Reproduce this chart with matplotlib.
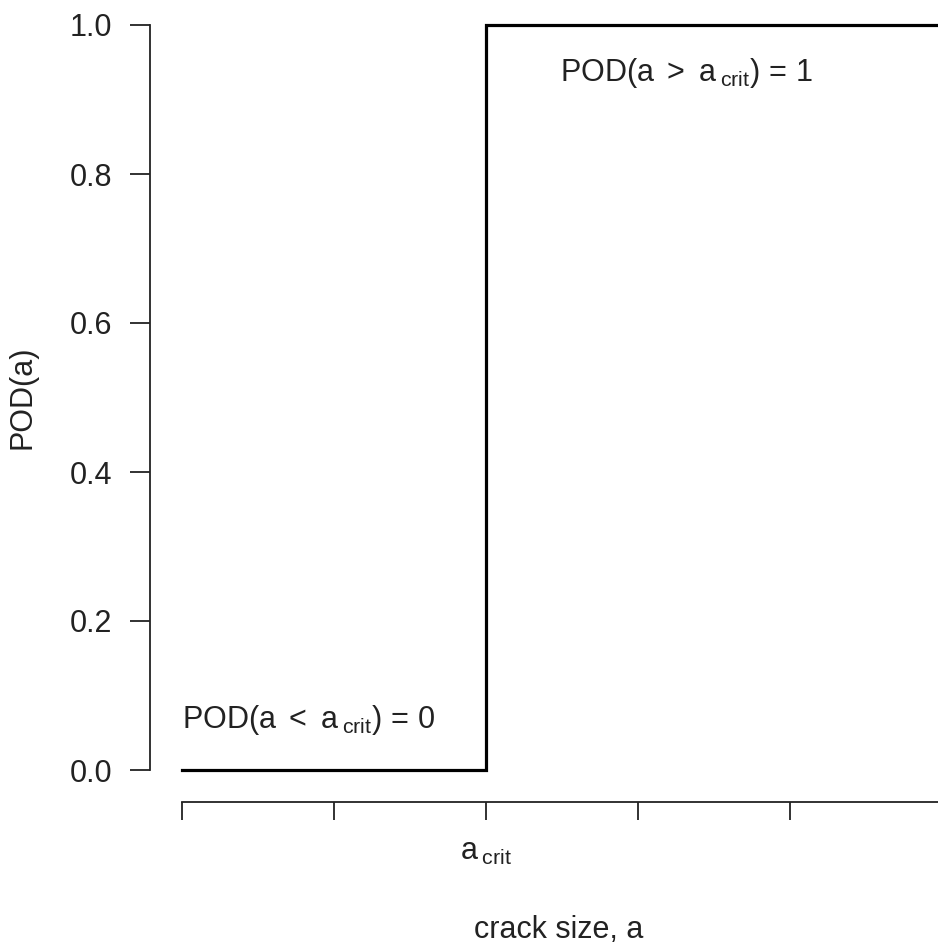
import numpy as np
import matplotlib
matplotlib.use('Agg')
import matplotlib.pyplot as plt

plt.rcParams['font.family'] = ['Liberation Sans', 'DejaVu Sans']
plt.rcParams['mathtext.fontset'] = 'custom'
plt.rcParams['mathtext.rm'] = 'Liberation Sans'
plt.rcParams['mathtext.it'] = 'Liberation Sans'
plt.rcParams['mathtext.bf'] = 'Liberation Sans:bold'

# step POD curve: 0 below a_crit, 1 above
step_x = [0, 2, 2, 5]
step_y = [0, 0, 1, 1]

x_ticks = [0, 1, 2, 3, 4, 5]
x_ticklabels = ['', '', r'$a_{\;\mathrm{crit}}$', '', '', '']
y_ticks = [0.0, 0.2, 0.4, 0.6, 0.8, 1.0]
y_ticklabels = ['0.0', '0.2', '0.4', '0.6', '0.8', '1.0']

lab_low = r'$\mathrm{POD}(a\,\,<\,\,a_{\;\mathrm{crit}})\,=\,0$'
lab_high = r'$\mathrm{POD}(a\,\,>\,\,a_{\;\mathrm{crit}})\,=\,1$'

W, H = 938, 947
fig = plt.figure(figsize=(W / 100, H / 100), dpi=100)
ax = fig.add_axes([182 / W, (H - 770) / H, 760 / W, 745 / H])

ax.plot(step_x, step_y, color='black', lw=2.3, clip_on=False,
        solid_joinstyle='miter')

ax.set_xlim(0, 5)
ax.set_ylim(0, 1)

for s in ['top', 'right']:
    ax.spines[s].set_visible(False)
ax.spines['left'].set_position(('outward', 23))
ax.spines['bottom'].set_position(('outward', 23))
ax.spines['left'].set_bounds(0, 1)
ax.spines['bottom'].set_bounds(0, 5)
for s in ['left', 'bottom']:
    ax.spines[s].set_linewidth(1.3)
    ax.spines[s].set_color('#222222')

ax.set_xticks(x_ticks)
ax.set_xticklabels(x_ticklabels)
ax.set_yticks(y_ticks)
ax.set_yticklabels(y_ticklabels)
ax.tick_params(axis='y', length=14.4, width=1.3, pad=13, labelsize=22,
               color='#222222', labelcolor='#222222')
ax.tick_params(axis='x', length=13, width=1.3, pad=12, labelsize=22,
               color='#222222', labelcolor='#222222')

ax.text(0.0, 0.067, lab_low, fontsize=22, ha='left', va='center',
        color='#222222')
ax.text(2.49, 0.935, lab_high, fontsize=22, ha='left', va='center',
        color='#222222')

fig.text(22 / W, 1 - 397 / H, 'POD(a)', rotation=90, fontsize=22,
         ha='center', va='center', color='#222222')
fig.text(559 / W, 1 - 930 / H, 'crack size, a', fontsize=22,
         ha='center', va='center', color='#222222')

fig.savefig('out.png', dpi=100, facecolor='white')
